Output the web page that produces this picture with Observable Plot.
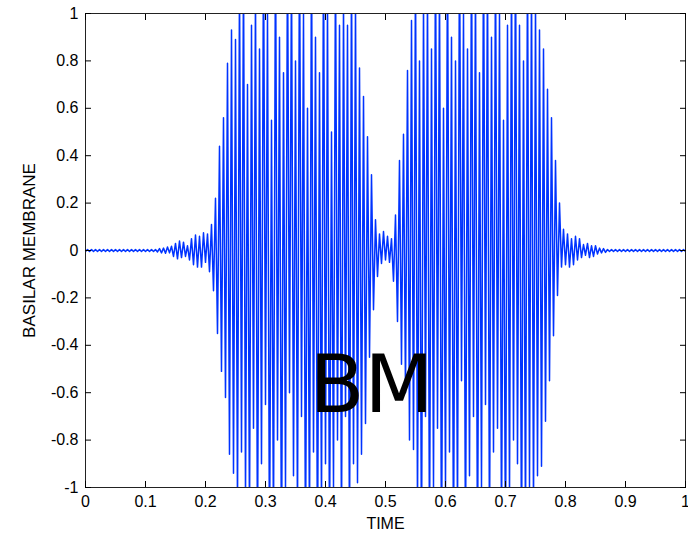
<!DOCTYPE html>
<html>
<head>
<meta charset="utf-8">
<script src="https://cdn.jsdelivr.net/npm/d3@7"></script>
<script src="https://cdn.jsdelivr.net/npm/@observablehq/plot@0.6"></script>
<style>
  html, body { margin: 0; padding: 0; background: #fff; }
</style>
</head>
<body>
<div id="chart"></div>
<script>
// Samples per unit of TIME (one sample every 1/300)
const sampleRate = 300;

// Basilar membrane displacement
const quietStart = [
  -0.004, 0.004, -0.004, 0.004, -0.004, 0.004, -0.004, 0.004, -0.004, 0.004,
  -0.004, 0.004, -0.004, 0.004, -0.004, 0.004, -0.004, 0.004, -0.004, 0.004,
  -0.004, 0.004, -0.004, 0.004, -0.004, 0.004, -0.004, 0.004, -0.004, 0.004,
  -0.004, 0.004, -0.004, 0.004, -0.004, 0.004
];
const preRipple = [
  -0.006, 0.008, -0.01, 0.01, -0.012, 0.015, -0.01, 0.018, -0.025, 0.03,
  -0.035, 0.04, -0.03, 0.035, -0.025, 0.02, -0.04, 0.05, -0.06, 0.065,
  -0.07, 0.06, -0.07, 0.075, -0.05, 0.07, -0.09
];
const burst1Rise = [
  0.11, -0.17, 0.22, -0.35, 0.44, -0.51, 0.56, -0.62, 0.79, -0.86,
  0.93, -0.94, 0.89, -1.1
];
const burst1Peak = [
  1.15, -0.85, 1.2, -1.05, 0.7, -1.15, 0.95, -0.75, 1.1, -1.3,
  0.85, -0.9, 1.3, -0.65, 1.0, -1.3, 0.55, -1.2, 1.35, -0.8,
  0.9, -1.35, 0.75, -1.0, 1.3, -0.6, 1.2, -0.95, 0.8, -1.15,
  1.35, -0.7, 1.0, -1.3, 0.6, -1.2, 1.3, -0.85, 0.9, -1.35,
  0.75, -1.1, 1.3, -0.9, 1.05, -1.25, 0.5, -1.0, 1.25, -0.8,
  0.95, -1.2, 1.05, -0.7, 0.95, -1.25, 1.2, -0.9, 1.05
];
const burst1Fall = [
  -0.98, 0.77, -0.86, 0.65, -0.73, 0.48, -0.45, 0.32, -0.25, 0.13, -0.11
];
const midGap = [0.07, -0.055, 0.08, -0.04, 0.06, -0.05, 0.05];
const burst2Rise = [
  -0.13, 0.15, -0.3, 0.38, -0.48, 0.49, -0.6, 0.76, -0.8, 0.97, -0.84
];
const burst2Peak = [
  1.2, -1.1, 0.8, -1.3, 1.05, -0.7, 1.1, -1.25, 0.85, -1.0,
  1.3, -0.75, 1.15, -1.35, 0.6, -1.0, 1.3, -0.85, 0.9, -1.3,
  0.8, -1.15, 1.35, -0.55, 1.0, -1.3, 0.85, -0.95, 1.3, -0.7,
  1.15, -1.35, 0.75, -1.0, 1.3, -0.65, 1.2, -1.25, 0.9, -0.85,
  1.25, -0.75, 1.0, -1.2, 0.55, -1.3, 0.95, -1.05, 1.2, -0.8,
  1.3, -0.9, 0.95, -1.3, 0.8, -1.2, 1.25, -1.0, 1.15
];
const burst2Fall = [
  -1.1, 1.05, -0.95, 0.93, -0.91, 0.85, -0.72, 0.68, -0.55, 0.56,
  -0.36, 0.38, -0.19, 0.2, -0.07, 0.09
];
const postRipple = [
  -0.06, 0.07, -0.07, 0.05, -0.06, 0.06, -0.04, 0.05, -0.03, 0.025,
  -0.02, 0.03, -0.03, 0.02, -0.025, 0.02, -0.015, 0.01, -0.01, 0.008, -0.008
];
const quietEnd = [
  0.004, -0.004, 0.004, -0.004, 0.004, -0.004, 0.004, -0.004, 0.004, -0.004,
  0.004, -0.004, 0.004, -0.004, 0.004, -0.004, 0.004, -0.004, 0.004, -0.004,
  0.004, -0.004, 0.004, -0.004, 0.004, -0.004, 0.004, -0.004, 0.004, -0.004,
  0.004, -0.004, 0.004, -0.004, 0.004, -0.004, 0.004, -0.004, 0.004, -0.004
];

const xTicks = [0, 0.1, 0.2, 0.3, 0.4, 0.5, 0.6, 0.7, 0.8, 0.9, 1];
const yTicks = [-1, -0.8, -0.6, -0.4, -0.2, 0, 0.2, 0.4, 0.6, 0.8, 1];
const xLabel = "TIME";
const yLabel = "BASILAR MEMBRANE";
const annotation = "BM";

const membrane = [
  ...quietStart, ...preRipple, ...burst1Rise, ...burst1Peak, ...burst1Fall,
  ...midGap, ...burst2Rise, ...burst2Peak, ...burst2Fall, ...postRipple, ...quietEnd
];
const data = membrane.map((v, i) => ({time: i / sampleRate, value: v}));

const fmt = d => String(Math.round(d * 10) / 10);
const noText = () => "";

const chart = Plot.plot({
  width: 688,
  height: 534,
  marginLeft: 85,
  marginRight: 3,
  marginTop: 13,
  marginBottom: 47,
  style: {fontFamily: "'Liberation Sans', Arial, Helvetica, sans-serif", fontSize: "16px", background: "#fff", color: "#000"},
  x: {domain: [0, 1]},
  y: {domain: [-1, 1]},
  marks: [
    Plot.line(data, {x: "time", y: "value", stroke: "#0033ff", strokeWidth: 1.5, clip: true}),
    Plot.frame({stroke: "#222", strokeWidth: 1}),
    Plot.axisX(xTicks, {anchor: "bottom", tickSize: -6, tickPadding: 14, tickFormat: fmt, label: null, fontSize: 16, stroke: "#000"}),
    Plot.axisX(xTicks, {anchor: "top", tickSize: -6, tickFormat: noText, label: null, stroke: "#000"}),
    Plot.axisY(yTicks, {anchor: "left", tickSize: -6, tickPadding: 13, tickFormat: fmt, label: null, fontSize: 16, stroke: "#000"}),
    Plot.axisY(yTicks, {anchor: "right", tickSize: -6, tickFormat: noText, label: null, stroke: "#000"}),
    Plot.text([xLabel], {text: d => d, frameAnchor: "bottom", textAnchor: "middle", lineAnchor: "middle", dy: 36, fontSize: 16, fill: "#000"}),
    Plot.text([yLabel], {text: d => d, frameAnchor: "left", textAnchor: "middle", lineAnchor: "middle", dx: -56, rotate: -90, fontSize: 17, fill: "#000"}),
    Plot.text([annotation], {text: d => d, frameAnchor: "middle", textAnchor: "middle", lineAnchor: "middle", dx: -14, dy: 136, fontSize: 80, fill: "#000", fontFamily: "'DejaVu Sans', sans-serif"})
  ]
});
document.getElementById("chart").appendChild(chart);
</script>
</body>
</html>
